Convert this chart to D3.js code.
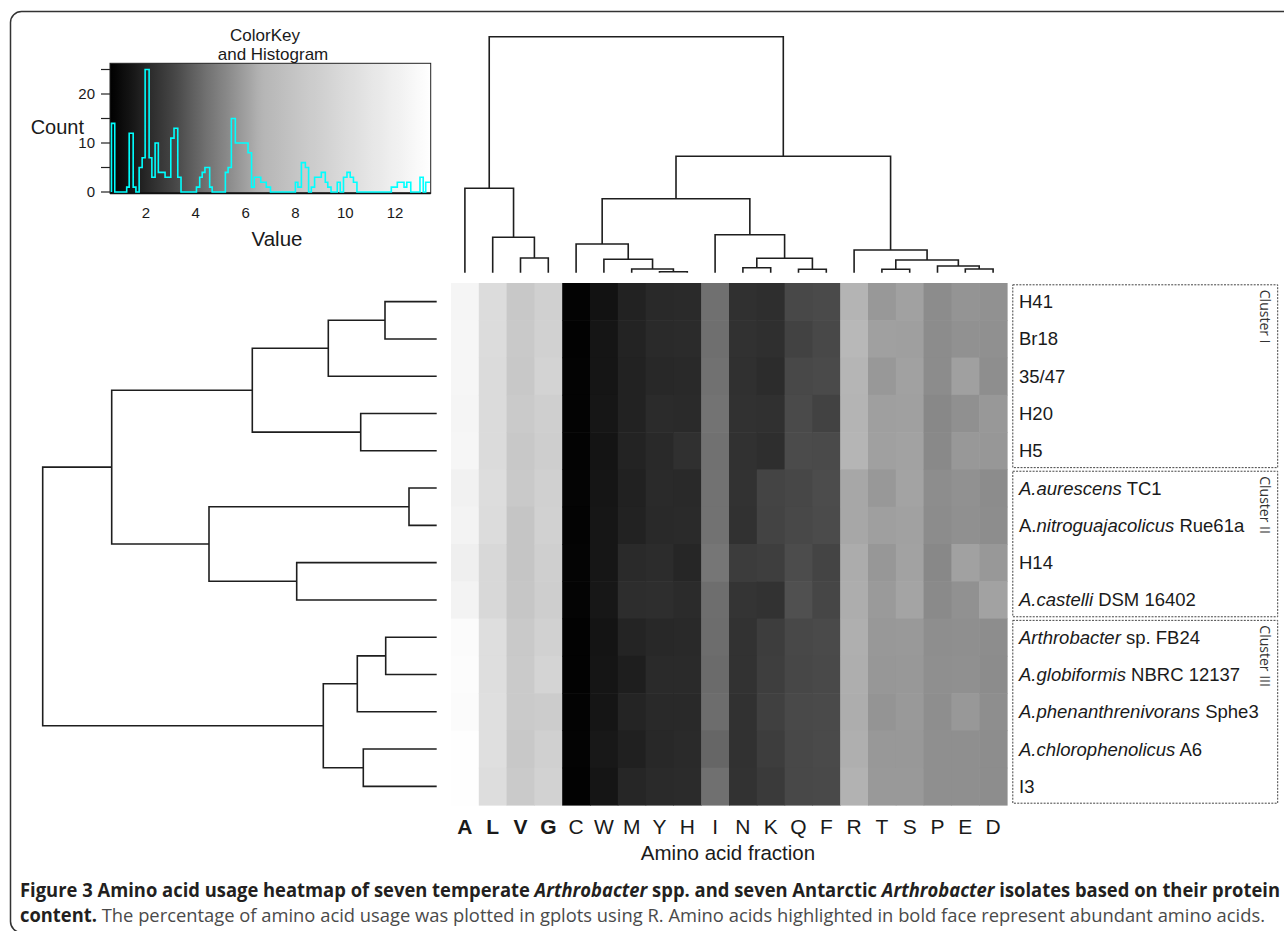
<!DOCTYPE html>
<html>
<head>
<meta charset="utf-8">
<script src="https://cdn.jsdelivr.net/npm/d3@7"></script>
<style>
    body { margin: 0; background: #fff; }
    svg { display: block; }
    text { font-family: Arial, "Liberation Sans", sans-serif; fill: #1a1a1a; }
</style>
</head>
<body>
<div id="chart"></div>
<script>
// columns in the order the heatmap shows them
var aminoAcids = ["A", "L", "V", "G", "C", "W", "M", "Y", "H", "I", "N", "K", "Q", "F", "R", "T", "S", "P", "E", "D"];
var boldAcids = ["A", "L", "V", "G"];

// rows, top to bottom; each label is a list of [text, italic] parts
var strainLabels = [
    [["H41", 0]],
    [["Br18", 0]],
    [["35/47", 0]],
    [["H20", 0]],
    [["H5", 0]],
    [["A.aurescens", 1], [" TC1", 0]],
    [["A.", 0], ["nitroguajacolicus", 1], [" Rue61a", 0]],
    [["H14", 0]],
    [["A.castelli", 1], [" DSM 16402", 0]],
    [["Arthrobacter", 1], [" sp. FB24", 0]],
    [["A.globiformis", 1], [" NBRC 12137", 0]],
    [["A.phenanthrenivorans", 1], [" Sphe3", 0]],
    [["A.chlorophenolicus", 1], [" A6", 0]],
    [["I3", 0]]
];

var clusterNames = ["Cluster I", "Cluster II", "Cluster III"];
var clusterFirstRow = [0, 5, 9];
var clusterLastRow = [4, 8, 13];

// amino acid usage (%), one list per amino acid, rows in strain order
var usageByAcid = [
    [12.52, 12.58, 12.6, 12.48, 12.55, 12.1, 12.25, 11.95, 12.3, 13.05, 13.1, 13.08, 13.3, 13.38],
    [10.1, 10.15, 10.0, 10.05, 9.98, 10.22, 10.12, 9.72, 9.78, 10.25, 10.3, 10.4, 10.35, 10.18],
    [8.3, 8.35, 8.3, 8.45, 8.28, 8.42, 8.05, 8.02, 8.15, 8.38, 8.45, 8.48, 8.32, 8.44],
    [9.0, 9.1, 9.25, 8.9, 8.85, 9.05, 9.1, 8.95, 8.8, 9.15, 9.38, 8.7, 9.02, 9.22],
    [0.68, 0.66, 0.7, 0.67, 0.69, 0.71, 0.7, 0.72, 0.73, 0.65, 0.66, 0.68, 0.67, 0.64],
    [1.28, 1.42, 1.4, 1.44, 1.38, 1.41, 1.45, 1.43, 1.47, 1.36, 1.39, 1.42, 1.52, 1.4],
    [1.84, 1.86, 1.83, 1.85, 1.87, 1.82, 1.84, 2.1, 2.2, 1.9, 1.72, 1.9, 1.78, 1.96],
    [2.08, 2.1, 2.05, 2.12, 2.06, 2.1, 2.08, 2.17, 2.25, 2.05, 2.1, 2.08, 2.04, 2.1],
    [2.1, 2.12, 2.08, 2.1, 2.32, 2.06, 2.1, 1.97, 2.12, 2.08, 2.1, 2.06, 2.1, 2.12],
    [4.4, 4.38, 4.45, 4.5, 4.42, 4.48, 4.46, 4.6, 4.35, 4.3, 4.25, 4.32, 4.1, 4.4],
    [2.33, 2.35, 2.32, 2.34, 2.36, 2.38, 2.37, 2.76, 2.47, 2.4, 2.38, 2.36, 2.35, 2.4],
    [2.25, 2.27, 2.17, 2.32, 2.25, 3.05, 3.02, 2.83, 2.4, 2.8, 2.85, 2.9, 2.78, 2.7],
    [3.2, 2.98, 3.2, 3.26, 3.3, 3.18, 3.2, 3.32, 3.44, 3.2, 3.18, 3.22, 3.2, 3.19],
    [3.26, 3.2, 3.25, 2.98, 3.27, 3.32, 3.3, 3.05, 3.13, 3.26, 3.24, 3.27, 3.25, 3.22],
    [6.62, 6.95, 6.7, 6.6, 6.68, 6.2, 6.22, 6.35, 6.4, 6.45, 6.42, 6.38, 6.44, 6.55],
    [5.74, 6.0, 5.74, 5.98, 6.0, 5.74, 5.97, 5.72, 5.8, 5.74, 5.72, 5.61, 5.74, 5.76],
    [6.02, 5.98, 6.04, 6.0, 6.05, 6.1, 6.03, 6.06, 6.12, 5.77, 5.75, 5.78, 5.74, 5.78],
    [5.35, 5.36, 5.34, 5.22, 5.25, 5.38, 5.36, 5.2, 5.28, 5.42, 5.45, 5.4, 5.44, 5.46],
    [5.61, 5.5, 6.0, 5.48, 5.74, 5.5, 5.48, 6.02, 5.5, 5.45, 5.47, 5.74, 5.44, 5.46],
    [5.5, 5.48, 5.42, 5.74, 5.72, 5.36, 5.38, 5.75, 6.05, 5.38, 5.36, 5.4, 5.37, 5.39]
];

// column dendrogram, hclust style: -n = leaf n (1-based, display order), k = merge k
var colMerge = [[-3, -4], [-2, 1], [-1, 2], [-8, -9], [-7, 4], [-6, 5], [-5, 6],
    [-11, -12], [-13, -14], [8, 9], [-10, 10], [7, 11], [-19, -20], [-18, 13],
    [-16, -17], [15, 14], [-15, 16], [12, 17], [3, 18]];
var colHeight = [14.7, 35.4, 84.4, 1.0, 3.7, 13.4, 28.7, 5.0, 3.4, 14.4, 38, 74,
    3.7, 6.7, 3.4, 12.7, 22.7, 116.4, 236];

// row dendrogram
var rowMerge = [[-1, -2], [1, -3], [-4, -5], [2, 3], [-6, -7], [-8, -9], [5, 6],
    [4, 7], [-10, -11], [9, -12], [-13, -14], [10, 11], [8, 12]];
var rowHeight = [51.7, 108.4, 76, 184.4, 27.7, 140, 227.7, 325, 51, 79.4, 73.4, 113.4, 394];

// colour key histogram: step starts, counts, and end of last step
var histStarts = [0.62, 0.75, 1.23, 1.33, 1.49, 1.6, 1.73, 1.85, 1.97, 2.13, 2.24, 2.37, 2.5, 2.77,
    3.0, 3.13, 3.28, 3.41, 4.03, 4.16, 4.26, 4.37, 4.56, 4.66, 5.19, 5.3, 5.43, 5.59, 6.1, 6.24,
    6.35, 6.61, 6.83, 7.0, 8.0, 8.1, 8.24, 8.4, 8.53, 8.64, 8.77, 9.04, 9.2, 9.3, 9.43, 9.68,
    9.8, 9.93, 10.07, 10.2, 10.33, 10.47, 11.85, 12.09, 12.36, 12.47, 12.63, 13.0, 13.13, 13.23];
var histCounts = [14, 0, 1, 12, 1, 0, 5, 7, 25, 7, 3, 10, 4, 3,
    11, 13, 3, 0, 1, 3, 4, 5, 1, 0, 4, 5, 15, 10, 8, 1,
    3, 2, 1, 0, 2, 1, 6, 5, 0, 1, 3, 4, 2, 1, 0, 2,
    0, 3, 4, 3, 2, 0, 1, 2, 1, 2, 0, 3, 0, 2];
var histEnd = 13.4;
var keyTicks = [2, 4, 6, 8, 10, 12];
var countTicks = [0, 5, 10, 15, 20, 25];
var countLabels = [0, 10, 20];

function init() {
    var w = 1284;
    var h = 931;
    var lineColor = "#1e1e1e";

    var svg = d3.select("#chart")
        .append("svg")
        .attr("width", w)
        .attr("height", h);

    // figure frame, open to the right and bottom
    svg.append("rect")
        .attr("x", 10.5).attr("y", 11.5)
        .attr("width", 1300).attr("height", 921)
        .attr("rx", 11)
        .attr("fill", "none")
        .attr("stroke", "#333")
        .attr("stroke-width", 1.5);

    // grey scale shared by cells and key
    var color = d3.scaleLinear()
        .domain([0.56, 1.45, 2.1, 3.2, 4.4, 5.35, 6.0, 6.6, 8.3, 10.2, 13.43])
        .range([0, 22, 42, 72, 112, 140, 160, 180, 200, 221, 255].map(function (g) {
            return d3.rgb(g, g, g);
        }))
        .clamp(true);

    var x = d3.scaleBand().domain(aminoAcids).range([451, 1007]);
    var y = d3.scaleBand().domain(d3.range(strainLabels.length)).range([283, 805]);

    // heatmap cells
    var cells = [];
    usageByAcid.forEach(function (col, i) {
        col.forEach(function (v, j) {
            cells.push({ acid: aminoAcids[i], row: j, value: v });
        });
    });
    svg.append("g")
        .selectAll("rect")
        .data(cells)
        .enter()
        .append("rect")
        .attr("x", function (d) { return x(d.acid); })
        .attr("y", function (d) { return y(d.row); })
        .attr("width", x.bandwidth() + 0.6)
        .attr("height", y.bandwidth() + 0.6)
        .attr("fill", function (d) { return color(d.value); });

    // dendrograms
    function dendrogram(merges, heights, leafPos, hScale, vertical) {
        var pos = [];
        var paths = [];
        function child(c) {
            if (c < 0) return { p: leafPos(-c - 1), h: 0 };
            return { p: pos[c - 1], h: heights[c - 1] };
        }
        function pt(p, hh) {
            return vertical ? [p, hScale(hh)] : [hScale(hh), p];
        }
        merges.forEach(function (m, k) {
            var a = child(m[0]);
            var b = child(m[1]);
            pos[k] = (a.p + b.p) / 2;
            paths.push([pt(a.p, a.h), pt(a.p, heights[k]), pt(b.p, heights[k]), pt(b.p, b.h)]);
        });
        return paths;
    }

    var colH = d3.scaleLinear().domain([0, 236]).range([272.7, 36.7]);
    var rowH = d3.scaleLinear().domain([0, 394]).range([436.7, 42.7]);
    var line = d3.line();

    var colPaths = dendrogram(colMerge, colHeight, function (i) {
        return x(aminoAcids[i]) + x.bandwidth() / 2;
    }, colH, true);
    var rowPaths = dendrogram(rowMerge, rowHeight, function (i) {
        return y(i) + y.bandwidth() / 2;
    }, rowH, false);

    svg.append("g")
        .selectAll("path")
        .data(colPaths.concat(rowPaths))
        .enter()
        .append("path")
        .attr("d", line)
        .attr("fill", "none")
        .attr("stroke", lineColor)
        .attr("stroke-width", 1.6);

    // column labels
    svg.append("g")
        .selectAll("text")
        .data(aminoAcids)
        .enter()
        .append("text")
        .text(function (d) { return d; })
        .attr("x", function (d) { return x(d) + x.bandwidth() / 2; })
        .attr("y", 834)
        .attr("text-anchor", "middle")
        .attr("font-size", 21)
        .attr("font-weight", function (d) { return boldAcids.indexOf(d) >= 0 ? "bold" : "normal"; });

    svg.append("text")
        .text("Amino acid fraction")
        .attr("x", 728)
        .attr("y", 860)
        .attr("text-anchor", "middle")
        .attr("font-size", 20.5);

    // row labels
    var labels = svg.append("g")
        .selectAll("text")
        .data(strainLabels)
        .enter()
        .append("text")
        .attr("x", 1019)
        .attr("y", function (d, i) { return y(i) + y.bandwidth() / 2 + 6.5; })
        .attr("font-size", 18.5);
    labels.selectAll("tspan")
        .data(function (d) { return d; })
        .enter()
        .append("tspan")
        .text(function (d) { return d[0]; })
        .attr("font-style", function (d) { return d[1] ? "italic" : "normal"; });

    // cluster boxes
    clusterNames.forEach(function (name, i) {
        var top = y(clusterFirstRow[i]) + 1.8;
        var bottom = y(clusterLastRow[i]) + y.bandwidth() - 1.8;
        svg.append("rect")
            .attr("x", 1012.8).attr("y", top)
            .attr("width", 264.9).attr("height", bottom - top)
            .attr("fill", "none")
            .attr("stroke", "#444")
            .attr("stroke-width", 1)
            .attr("stroke-dasharray", "2,1.3");
        svg.append("text")
            .text(name)
            .attr("transform", "translate(1260," + (top + 5) + ") rotate(90)")
            .style("font-family", "'Open Sans', sans-serif")
            .attr("font-size", 14)
            .style("fill", "#333");
    });

    // colour key with histogram
    var kx = d3.scaleLinear().domain([0.56, 13.43]).range([110, 430.7]);
    var ky = d3.scaleLinear().domain([0, 25]).range([192, 69.5]);

    var grad = svg.append("defs").append("linearGradient")
        .attr("id", "keygrad")
        .attr("x1", "0%").attr("x2", "100%").attr("y1", "0%").attr("y2", "0%");
    grad.selectAll("stop")
        .data(d3.range(0, 1.0001, 0.02))
        .enter()
        .append("stop")
        .attr("offset", function (t) { return (t * 100) + "%"; })
        .attr("stop-color", function (t) { return color(kx.invert(110 + t * 320.7)); });

    svg.append("rect")
        .attr("x", 110).attr("y", 63.3)
        .attr("width", 320.7).attr("height", 130)
        .attr("fill", "url(#keygrad)")
        .attr("stroke", "#222")
        .attr("stroke-width", 1);
    svg.append("line")
        .attr("x1", 110).attr("x2", 430.7)
        .attr("y1", 193.3).attr("y2", 193.3)
        .attr("stroke", "#111")
        .attr("stroke-width", 2);

    var steps = [[kx(histStarts[0]), ky(0)]];
    histStarts.forEach(function (s, i) {
        var e = i + 1 < histStarts.length ? histStarts[i + 1] : histEnd;
        steps.push([kx(s), ky(histCounts[i])]);
        steps.push([kx(e), ky(histCounts[i])]);
    });
    svg.append("path")
        .attr("d", line(steps))
        .attr("fill", "none")
        .attr("stroke", "#00ffff")
        .attr("stroke-width", 1.6);

    svg.append("g")
        .selectAll("line")
        .data(countTicks)
        .enter()
        .append("line")
        .attr("x1", 101).attr("x2", 110)
        .attr("y1", function (d) { return ky(d); })
        .attr("y2", function (d) { return ky(d); })
        .attr("stroke", "#222")
        .attr("stroke-width", 1.2);
    svg.append("g")
        .selectAll("text")
        .data(countLabels)
        .enter()
        .append("text")
        .text(function (d) { return d; })
        .attr("x", 95)
        .attr("y", function (d) { return ky(d) + 5; })
        .attr("text-anchor", "end")
        .attr("font-size", 15);
    svg.append("g")
        .selectAll("text")
        .data(keyTicks)
        .enter()
        .append("text")
        .text(function (d) { return d; })
        .attr("x", function (d) { return kx(d); })
        .attr("y", 218)
        .attr("text-anchor", "middle")
        .attr("font-size", 15);

    svg.append("text").text("Count")
        .attr("x", 84).attr("y", 134)
        .attr("text-anchor", "end").attr("font-size", 20);
    svg.append("text").text("Value")
        .attr("x", 277).attr("y", 246)
        .attr("text-anchor", "middle").attr("font-size", 20.5);
    svg.append("text").text("ColorKey")
        .attr("x", 265).attr("y", 41)
        .attr("text-anchor", "middle").attr("font-size", 17);
    svg.append("text").text("and Histogram")
        .attr("x", 273).attr("y", 60)
        .attr("text-anchor", "middle").attr("font-size", 17);

    // caption
    var cap1 = svg.append("text")
        .attr("x", 20).attr("y", 897)
        .style("font-family", "'Open Sans', sans-serif")
        .attr("font-size", 19)
        .attr("font-weight", "bold")
        .attr("textLength", 1260)
        .attr("lengthAdjust", "spacingAndGlyphs")
        .style("fill", "#231f20");
    [["Figure 3 Amino acid usage heatmap of seven temperate ", 0], ["Arthrobacter", 1],
        [" spp. and seven Antarctic ", 0], ["Arthrobacter", 1],
        [" isolates based on their protein", 0]].forEach(function (p) {
        cap1.append("tspan").text(p[0]).attr("font-style", p[1] ? "italic" : "normal");
    });

    var cap2 = svg.append("text")
        .attr("x", 20).attr("y", 922)
        .style("font-family", "'Open Sans', sans-serif")
        .attr("font-size", 19)
        .attr("textLength", 1245)
        .attr("lengthAdjust", "spacingAndGlyphs");
    cap2.append("tspan").text("content.")
        .attr("font-weight", "bold").style("fill", "#231f20");
    cap2.append("tspan")
        .text(" The percentage of amino acid usage was plotted in gplots using R. Amino acids highlighted in bold face represent abundant amino acids.")
        .style("fill", "#4a4a4a");
}
window.onload = init;
</script>
</body>
</html>
